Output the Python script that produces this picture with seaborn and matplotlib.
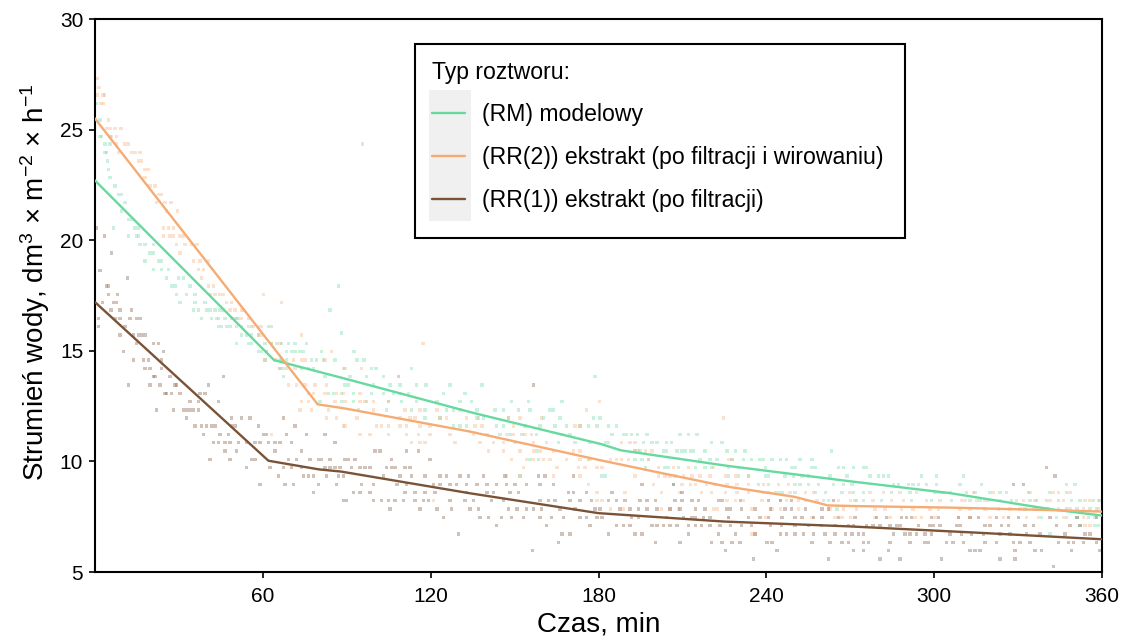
import numpy as np
import pandas as pd
import matplotlib
matplotlib.use("Agg")
import matplotlib.pyplot as plt
from matplotlib.lines import Line2D
from matplotlib.patches import Rectangle
import seaborn as sns

# ---------------- data ----------------
series_names = ["(RM) modelowy",
                "(RR(2)) ekstrakt (po filtracji i wirowaniu)",
                "(RR(1)) ekstrakt (po filtracji)"]
series_colors = ["#66D99E", "#F6AB73", "#7A5236"]

# fitted lines (time in min, flux)
rm_line_t = [0, 64, 90, 135, 181, 188, 226, 270, 306, 341, 360]
rm_line_v = [22.7, 14.58, 13.72, 12.2, 10.78, 10.5, 9.8, 9.1, 8.56, 7.85, 7.55]
rr2_line_t = [0, 79.6, 89, 134, 180, 203, 226, 250, 262, 272, 306, 341, 360]
rr2_line_v = [25.5, 12.58, 12.4, 11.35, 10.07, 9.46, 8.86, 8.4, 8.01, 7.98, 7.91, 7.8, 7.73]
rr1_line_t = [0, 62, 80, 88, 134, 180, 225, 270, 315, 360]
rr1_line_v = [17.2, 10.03, 9.64, 9.54, 8.56, 7.66, 7.28, 7.06, 6.78, 6.48]

# measured points: flux level -> times
rm_points = {
    26.19: [0.6], 25.43: [1.8], 24.7: [1.8, 2.4, 5.4], 24.34: [3.6, 5.4, 95.7],
    23.96: [3.6, 4.2], 23.58: [4.5], 23.2: [4.8], 22.83: [5.4], 22.45: [7.2],
    22.07: [8.3, 9.5], 21.7: [10.7], 21.32: [9.5], 20.94: [11.9, 13.1],
    20.56: [6.6, 14.3, 15.5], 20.19: [11.9, 14.9, 15.5], 19.81: [16.1, 17.9, 20.9],
    19.43: [19.7, 20.9], 19.06: [17.9, 22.6, 23.8], 18.68: [20.9, 23.8, 26.2],
    18.3: [25.6, 29.8, 31.6], 17.93: [27.4, 28.6, 34, 87], 17.55: [29.2, 32.8, 35.8],
    17.19: [30.4, 35.8, 39.3],
    16.84: [35.2, 37, 39.9, 41.1, 42.9, 44.7, 45.9, 84],
    16.46: [38.1, 41.7, 43.5, 44.1, 46.5, 48.9, 50, 51.2],
    16.09: [44.1, 45.3, 47.1, 48.3, 50.6, 52.4, 56, 62, 63.2],
    15.8: [88.2], 15.71: [52.4, 54.2, 56, 58.4],
    15.34: [50.6, 54.8, 56, 60.8, 63.2, 64.9, 66.7, 69.1, 71.5, 75.7],
    14.96: [58.4, 59.6, 61.4, 68.5, 70.3, 71.5, 73.3, 74.5, 81, 92.6],
    14.58: [60.8, 66.1, 66.7, 68.5, 77.5, 79.2, 81.6, 85.8, 93.6, 96.2],
    14.21: [66.1, 67.3, 73.9, 76.3, 78.1, 89.4, 98.9, 100.5, 113.2],
    13.83: [67.3, 82.2, 91.2, 97.1, 103.1, 108.5, 178.8],
    13.46: [89.4, 90.6, 99.5, 105.5, 109, 115, 118.4, 126.9, 138.3],
    13.08: [83.4, 85.2, 88.2, 92.4, 98.9, 103.1, 106.7, 109, 112, 124.5, 132.3],
    12.7: [80.4, 88.2, 92.4, 97.1, 104.9, 109.6, 115, 122.2, 130.5, 134.7, 149, 155, 166.9],
    12.33: [94.2, 104.3, 113.2, 118, 125.7, 128.1, 136.5, 143, 146, 151.4, 155.5, 162.7, 163.9],
    11.97: [118, 123.4, 136.5, 138.9, 147.8, 160.3, 166.3, 178.2, 180.6],
    11.6: [128.1, 130.5, 132.9, 143.6, 146, 153.7, 159.1, 164.5, 168.6, 173.4, 176.4, 179.4, 183.6, 186.5],
    11.22: [140.1, 144.8, 148.4, 152.6, 157.9, 166.9, 169.8, 184.8, 188.9, 190.1, 191.9, 194, 197.3, 209.2, 212.2, 215.2],
    10.85: [165.7, 171.6, 177, 182.4, 183.6, 196.1, 199.1, 200.9, 204.4, 206.2, 220.5, 224.1],
    10.47: [157.9, 193.1, 194.9, 203.2, 204.4, 208, 209.8, 211, 212.8, 214, 218.1, 225.9, 228.9, 232.4, 263.4],
    10.09: [155.5, 158.5, 176.4, 193.1, 195.5, 197.9, 216.3, 219.9, 222.3, 227.7, 231.8, 234.8, 237.8, 239, 242, 245, 247.3, 252.1, 256.3],
    9.72: [196.7, 203.8, 205, 208.6, 214.6, 218.1, 220.5, 226.5, 230.1, 239.6, 249.1, 250.3, 256.3, 257.5, 265.8, 267.6, 271.1, 274.7, 275.9],
    9.34: [152, 181.2, 182.4, 226.5, 230.1, 233.6, 239.6, 240.8, 246.7, 249.7, 252.7, 255.1, 262.8, 268.8, 277.1, 280, 281.8, 283.6, 295.5, 300.9, 310.4],
    8.96: [206.8, 237.2, 240.8, 250.3, 252.1, 255.1, 258.7, 264, 267.6, 270.6, 285.4, 287.2, 290.8, 292.5, 294.3, 297.3, 300.9, 309.2, 317, 347.4, 350.4],
    8.59: [243.2, 245.6, 250.3, 257.5, 261.1, 267, 271.1, 274.7, 284.8, 291.4, 300.3, 302.1, 303.3, 311.6, 314.6, 320, 323.5, 325.9, 333.7, 341.4, 347.4],
    8.22: [260.4, 262.2, 271.7, 274.7, 281.2, 292, 299.1, 306.3, 312.8, 316.4, 319.4, 327.7, 334.3, 336.6, 340.2, 344.4, 349.2, 352.1, 356.9, 359.3],
    7.85: [265.2, 332.5, 336.6, 340.8, 347.4, 351, 355.7, 358.1],
    7.47: [338.4, 343.8, 347.4, 351, 355.1, 357.5],
    7.09: [352.1, 357.5, 358.7],
    6.72: [341.4],
}

rr2_points = {
    27.3: [0.9], 26.9: [1.4], 26.56: [0.9, 2.9, 3.5], 26.19: [2.2, 3.0], 25.43: [4.8],
    25.06: [4.2, 5.4, 7.2, 9.3], 24.7: [6, 7.7], 24.34: [7.7, 10.7, 11.9],
    23.96: [8.3, 13.1, 14.3, 16.1], 23.58: [15.5, 16.7], 23.2: [17.9, 19.1],
    22.83: [17.9], 22.45: [19.7, 21.5], 22.07: [22.6, 23.8], 21.7: [22, 25, 27.2],
    21.32: [25.6, 29.6], 20.56: [24.4, 26.2, 28], 20.19: [24.4, 26.8, 28, 30.4, 31.6],
    19.81: [29.2, 32.2, 34.6, 36.4], 19.43: [30.4], 19.06: [35.2, 37.5, 40.5],
    18.68: [37, 38.7], 18.3: [38.1], 17.93: [40.5, 42.3],
    17.55: [41.1, 42.9, 44.7, 45.9, 60.2], 17.19: [47.1, 48.9, 66.7],
    16.84: [48.3, 50, 52.4, 53], 16.46: [50.6, 52.4, 54.8],
    16.09: [54.8, 56.6, 58.4, 59.6], 15.71: [58.4, 59.6, 73.9],
    15.34: [63.2, 66.1, 117.2], 14.96: [61.4, 84.6],
    14.58: [60.8, 64.4, 70.9, 73.9, 75.1, 82.2],
    14.21: [66.1, 68.5, 71.5, 88.8, 95.3], 13.83: [108.5],
    13.46: [69.1, 72.1, 75.1, 78.6, 82.8],
    13.08: [76.3, 78.1, 82.2, 86.4, 88.8, 94.8],
    12.7: [73.9, 76.3, 85.8, 89.4, 94.8, 96.5, 99.5, 104.9, 180.3],
    12.33: [73.3, 77.5, 83.4, 99.5, 110.8, 116.2, 122.2, 130.5, 175.8],
    11.97: [82.8, 86.4, 93.6, 109, 112.6, 114.4, 123.4, 125.7, 132.9, 137.1, 147.8, 151.9, 159.7, 224.7],
    11.6: [88.8, 89.4, 100.7, 102.5, 104.9, 109, 111.4, 116.2, 119.8, 135.9, 138.3, 149.6, 171.6, 173.4],
    11.22: [63.2, 94.8, 98.3, 104.9, 111.4, 115.6, 119.8, 126.9, 135.3, 147.2, 149.6, 153.7, 156.1],
    10.85: [113.2, 116.2, 118, 128.7, 137.7, 142.4, 146, 150.2, 156.7, 161.5, 188.3, 191.3, 193.1],
    10.47: [140.6, 146, 151.9, 156.7, 159.1, 163.9, 171, 173.4, 193.1, 194.3, 196.7, 199.1],
    10.09: [149, 154.3, 156.7, 160.3, 162.7, 168.6, 173.4, 177, 184.2, 186.5, 188.3, 190.7, 197.9, 226.5, 227.7],
    9.72: [153.1, 165.1, 172.8, 175.2, 179.4, 181.2, 201.4, 206.8, 212.2, 221.1],
    9.34: [147.2, 152, 163.9, 173.4, 193.1, 201.4, 203.8, 205.6, 207.4, 210.4, 213.4, 216.3, 219.9, 225.3, 228.9, 233.6],
    8.96: [176.4, 199.7, 209.8, 212.8, 214.6, 218.7, 221.7, 225.9, 229.5, 233.6, 239, 244.4, 247.9],
    8.59: [179.4, 189.5, 202.6, 209.2, 216.9, 220.5, 225.3, 229.5, 233.6, 239, 240.8, 244.4, 248.5, 253.9, 256.9,
           269.9, 277.1, 281.8, 287.8, 293.7, 303.3, 305.7, 314, 321.2, 334.3, 342.6, 344.4, 348.6],
    8.22: [121, 179.4, 181.2, 225.9, 228.9, 231.8, 238.4, 245, 247.3, 251.5, 253.9, 258.1, 265.8, 270, 272.3,
           278.2, 284.8, 289, 297.3, 302.1, 309.8, 311, 315.2, 318.2, 323.5, 329.5, 331.9, 336.1, 341.4, 346.2,
           353.9, 355.7, 358.7],
    7.85: [184.2, 188.9, 202.6, 205.6, 208.6, 221.1, 222.3, 234.8, 242, 245, 251.5, 262.8, 267.6, 272.3, 278.8,
           282.4, 288.4, 292.5, 298.5, 301.5, 309.2, 312.8, 318.2, 322.9, 327.1, 330.7, 335.5, 340.2, 344.4, 348.6,
           353.3, 358.7],
    7.47: [226.5, 239.6, 256.3, 264.6, 267, 270, 278.8, 284.2, 293.1, 295.5, 300.3, 308.6, 312.8, 320, 324.7,
           333.1, 337.2, 346.2, 353.3],
    7.09: [353.9, 355.7],
    6.72: [234.8, 236],
}

rr1_points = {
    20.56: [0.6], 20.19: [3.3], 19.43: [6], 18.62: [1.8], 18.3: [11.7], 17.93: [4.2, 4.8],
    17.55: [4.8, 8.1], 17.19: [2.6, 6.6, 7.7], 16.84: [5.7, 8.9, 13.1],
    16.46: [1.2, 7.2, 8.9, 12.5, 14.9, 16.1], 16.09: [1.2, 10.7],
    15.71: [8.9, 13.7, 15.5, 16.7, 17.9], 15.34: [14.9, 20.9, 22.6], 14.96: [10.1, 24.4],
    14.58: [13.7, 17.3, 19.1, 23.8], 14.21: [17.9, 19.7, 23.8],
    13.83: [20.9, 21.5, 26.8, 45.9], 13.46: [11.9, 19.7, 23.2, 28.6, 29.2, 40.5, 156.7],
    13.08: [25, 25.6, 27.4, 30.4, 37.5, 39.3], 12.7: [34, 37, 44.1],
    12.33: [22, 28, 31.6, 32.8, 34, 35.2, 37], 11.97: [32.8, 48.9, 52.4, 55.4, 67.3],
    11.6: [35.8, 38.1, 39.9, 41.7, 42.9, 48.9, 50, 58.4, 71.5],
    11.22: [38.7, 44.7, 47.7, 60.2, 61.4, 68.5, 75.7, 82.2],
    10.85: [42.3, 44.1, 46.5, 48.3, 51.2, 54.2, 57.2, 59, 62, 64.4, 66.1, 70.3, 85.8],
    10.47: [46.5, 50.6, 64.4, 73.9, 100.1, 101.9, 111.4, 115.6],
    10.09: [41.1, 48.3, 56, 57.2, 69.1, 72.1, 76.9, 79.8, 81, 84, 89.4, 90.6, 93, 106.1, 119.8],
    9.72: [54.2, 62.6, 67.3, 70.3, 73.9, 82.2, 84, 85.8, 87.6, 91.8, 94.8, 96.5, 98.3, 104.3, 106.1, 107.3,
           110.8, 112.6, 340.2],
    9.34: [65.5, 74.5, 76.3, 78.1, 82.8, 87, 88.8, 103.1, 109, 113.2, 118, 123.4, 125.7, 130.5, 133.5, 138.9,
           146.6, 158.5, 160.9, 171, 343.2],
    8.96: [59, 67.9, 70.9, 79.8, 86.4, 95.3, 99.5, 107.9, 111.4, 121, 123.4, 126.9, 129.3, 132.9, 136.5, 140.1,
           143.6, 147.2, 150.2, 154.3, 159.1, 163.9, 195.5, 206.8, 328.3, 331.9],
    8.59: [78.1, 92.4, 94.8, 98.3, 110.8, 114.4, 118, 121.6, 132.9, 140.1, 142.4, 148.4, 151.4, 169.2, 171, 175.8,
           184.8, 209.8],
    8.22: [88.8, 90, 99.5, 102.5, 104.9, 107.3, 110.2, 114.4, 117.4, 119.2, 126.9, 132.3, 135.3, 141.8, 146,
           159.1, 162.1, 164.5, 169.8, 173.4, 177.6, 183.6, 186.5, 189.5, 194.9, 197.3, 200.3, 207.4, 209.8, 213.4,
           215.8, 222.9, 224.1, 230.7, 240.8, 245, 249.1, 264],
    7.85: [105.5, 116.2, 122.2, 127.5, 134.1, 137.1, 147.8, 150.8, 154.3, 156.7, 159.7, 166.3, 171.6, 178.8, 180.6,
           187.7, 191.3, 194.3, 197.3, 200.9, 205.6, 209.2, 214.6, 218.1, 225.9, 227.1, 231.2, 236, 241.4, 246.7,
           249.1, 253.9, 259.9, 262.2],
    7.47: [124.5, 137.7, 140.6, 145.4, 149, 153.1, 159.1, 163.3, 167.5, 173.4, 175.8, 179.4, 181.2, 191.9, 194.3,
           204.4, 210.4, 213.4, 214.6, 217.5, 219.9, 226.5, 233.6, 237.8, 240.8, 245.6, 250.3, 252.7, 256.9, 259.9,
           265.8, 271.7, 279.4, 283, 288.4, 290.2, 292, 299.1, 301.5, 308.6, 312.8, 315.8, 322.3, 326.5, 330.1,
           341.4, 351, 358.1],
    7.09: [143.6, 161.5, 177, 186.5, 188.9, 191.3, 199.1, 200.9, 203.2, 205.6, 208, 212.2, 214.6, 216.9, 219.9,
           223.5, 227.1, 231.2, 234.8, 241.4, 245.5, 250.3, 255.1, 259.8, 264.6, 269.4, 271.1, 275.9, 278.2, 280.6,
           284.2, 286.6, 287.8, 294.3, 298.5, 299.7, 302.1, 308, 309.2, 318.2, 320, 324.1, 326.5, 332.5, 335.5,
           343.8, 348.6, 352.1],
    6.72: [129.9, 166.9, 169.8, 183.6, 193.1, 195.5, 212.2, 222.9, 228.9, 236, 245, 247.3, 250.3, 253.3, 256.9,
           261, 264.6, 268.2, 270.6, 272.9, 274.7, 285.4, 289.6, 291.4, 293.7, 296.7, 299.1, 305.7, 309.8, 313.4,
           317.6, 323.5, 327.1, 333.1, 337.8, 346.8, 353.9, 355.7],
    6.34: [165.7, 200.3, 209.2, 220.5, 224.1, 227.7, 230.6, 240.2, 242, 256.3, 262.8, 267, 269.4, 274.7, 276.5,
           284.2, 291.4, 296.7, 297.9, 304.5, 306.8, 310.4, 318.2, 322.3, 328.3, 330.7, 334.3, 344.4, 348, 349.8,
           353.3, 358.1],
    5.96: [156.5, 225.3, 243.8, 271.2, 274.7, 283.6, 312.8, 314.6, 316.4, 328.9, 336.1, 338.4, 349.2, 359.3],
    5.59: [235.4, 262.2, 280.6, 287.8, 302.7, 323.5, 328.9],
    5.24: [342.6],
}

x_ticks = [60, 120, 180, 240, 300, 360]
y_ticks = [5, 10, 15, 20, 25, 30]

# ---------------- build frames ----------------
pt_rows = []
for name, pts in zip(series_names, [rm_points, rr2_points, rr1_points]):
    for lvl, xs in pts.items():
        for xv in xs:
            pt_rows.append((name, xv, lvl))
pts_df = pd.DataFrame(pt_rows, columns=["Typ", "Czas", "Strumien"])

ln_rows = []
for name, tt, vv in zip(series_names, [rm_line_t, rr2_line_t, rr1_line_t],
                        [rm_line_v, rr2_line_v, rr1_line_v]):
    for a, b in zip(tt, vv):
        ln_rows.append((name, a, b))
ln_df = pd.DataFrame(ln_rows, columns=["Typ", "Czas", "Strumien"])

palette = dict(zip(series_names, series_colors))

# ---------------- plot ----------------
sns.set_style("white")
plt.rcParams["font.family"] = ["Liberation Sans", "DejaVu Sans"]
plt.rcParams["mathtext.fontset"] = "custom"
plt.rcParams["mathtext.rm"] = "Liberation Sans"
plt.rcParams["mathtext.it"] = "Liberation Sans:italic"
plt.rcParams["mathtext.bf"] = "Liberation Sans:bold"
plt.rcParams["text.color"] = "black"
plt.rcParams["axes.labelcolor"] = "black"
plt.rcParams["legend.labelcolor"] = "black"

fig = plt.figure(figsize=(11.23, 6.39), dpi=100)
ax = fig.add_axes([95 / 1123, 67 / 639, 1007 / 1123, 553 / 639])

sns.scatterplot(data=pts_df, x="Czas", y="Strumien", hue="Typ", palette=palette,
                hue_order=series_names, marker="s", s=6, alpha=0.35, linewidth=0,
                legend=False, ax=ax, zorder=2)
sns.lineplot(data=ln_df, x="Czas", y="Strumien", hue="Typ", palette=palette,
             hue_order=series_names, estimator=None, sort=False, linewidth=1.7,
             legend=False, ax=ax, zorder=3)

ax.set_xlim(0, 360)
ax.set_ylim(5, 30)
ax.set_xticks(x_ticks)
ax.set_yticks(y_ticks)
ax.tick_params(axis="x", which="major", direction="out", length=4.5, width=1.2,
               labelsize=15, colors="black", pad=6, bottom=True)
ax.tick_params(axis="y", which="major", direction="out", length=4.5, width=1.2,
               labelsize=15, colors="black", pad=4, left=True)
for sp in ax.spines.values():
    sp.set_visible(True)
    sp.set_color("black")
    sp.set_linewidth(1.5)

ax.set_xlabel("Czas, min", fontsize=20, labelpad=4)
ax.set_ylabel(r"Strumień wody, dm$^{3}$ × m$^{-2}$ × h$^{-1}$", fontsize=20)
ax.yaxis.set_label_coords(-0.043, 0.525)

handles = [Line2D([0], [0], color=c, lw=1.7) for c in series_colors]
leg = ax.legend(handles, series_names, title="Typ roztworu:", loc="upper left",
                bbox_to_anchor=((415 - 95) / 1007, (572 - 44) / 553), borderaxespad=0,
                fontsize=16.6, title_fontsize=16.6, frameon=False,
                handlelength=1.47, handletextpad=0.72, labelspacing=0.86,
                borderpad=0.72)
leg._legend_box.align = "left"
leg.set_zorder(6)

# legend frame (reference box 415..905 x 44..238 px)
ax.add_patch(Rectangle(((415 - 95) / 1007, (572 - 238) / 553), (905 - 415) / 1007, (238 - 44) / 553,
                       transform=ax.transAxes, facecolor="white", edgecolor="black",
                       linewidth=1.5, zorder=4.5))

# grey key background like the reference
fig.canvas.draw()
r = fig.canvas.get_renderer()
hb = [h.get_window_extent(r) for h in leg.legend_handles]
x0 = min(b.x0 for b in hb) - 3
x1 = max(b.x1 for b in hb) + 6
yc_top = max((b.y0 + b.y1) / 2 for b in hb)
yc_bot = min((b.y0 + b.y1) / 2 for b in hb)
y0 = yc_bot - 22
y1 = yc_top + 23
inv = fig.transFigure.inverted()
(fx0, fy0), (fx1, fy1) = inv.transform([(x0, y0), (x1, y1)])
ax.add_patch(Rectangle((fx0, fy0), fx1 - fx0, fy1 - fy0, transform=fig.transFigure,
                       facecolor="#F0F0F0", edgecolor="none", zorder=5))

fig.savefig("out.png", dpi=100)
